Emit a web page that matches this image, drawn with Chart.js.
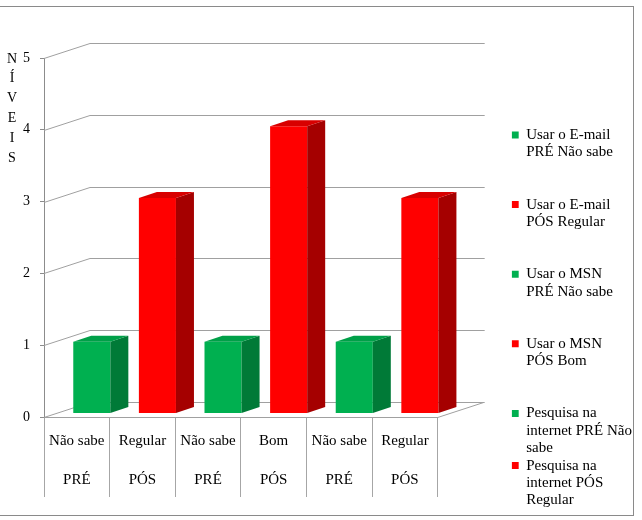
<!DOCTYPE html>
<html>
<head>
<meta charset="utf-8">
<script src="https://cdn.jsdelivr.net/npm/chart.js@4.4.1/dist/chart.umd.min.js"></script>
<style>
  html, body { margin: 0; padding: 0; background: #fff; }
  canvas { display: block; }
</style>
</head>
<body>
<canvas id="grafico" width="642" height="520"></canvas>
<script>
// DADOS DO GRAFICO
const categorias = ["Não sabe", "Regular", "Não sabe", "Bom", "Não sabe", "Regular"];
const fases = ["PRÉ", "PÓS", "PRÉ", "PÓS", "PRÉ", "PÓS"];
const valores = [1, 3, 1, 4, 1, 3];
const legendas = [
  ["Usar o E-mail", "PRÉ Não sabe"],
  ["Usar o E-mail", "PÓS Regular"],
  ["Usar o MSN", "PRÉ Não sabe"],
  ["Usar o MSN", "PÓS Bom"],
  ["Pesquisa na", "internet PRÉ Não", "sabe"],
  ["Pesquisa na", "internet PÓS", "Regular"]
];
const tituloY = "NÍVEIS";
const yMin = 0, yMax = 5, yPasso = 1;

// CORES
const VERDE = "#00B050", VERMELHO = "#FF0000";
const cores = fases.map(f => (f === "PRÉ" ? VERDE : VERMELHO));
const corLado = { [VERDE]: "#007A37", [VERMELHO]: "#A50000" };
const corTopo = { [VERDE]: "#00A048", [VERMELHO]: "#D80000" };

// PROFUNDIDADE 3D (pixels)
const PAREDE = { dx: 46, dy: -15 };
const FRENTE = { dx: 15, dy: -3.5 };
const LADO = { dx: 18, dy: -6 };

const FONTE = '"Liberation Serif", "Times New Roman", serif';
Chart.defaults.font.family = FONTE;
Chart.defaults.color = "#000";

// largura da legenda (mesma conta que o Chart.js faz, +10 da legenda vertical)
const medidor = document.createElement("canvas").getContext("2d");
medidor.font = "15px " + FONTE;
const larguraTexto = Math.max(...legendas.map(l =>
  medidor.measureText(l.reduce((a, b) => (a.length > b.length ? a : b))).width));
const larguraLegenda = 7 + 7.5 + larguraTexto + 10;
const legendaX = 512;
const fimEixoX = 438;
const padDireita = Math.max(0, 642 - legendaX - larguraLegenda);

// paredes, chao e lados das barras
const efeito3d = {
  id: "efeito3d",
  beforeDatasetsDraw(chart) {
    const { ctx, chartArea: a, scales: { y } } = chart;
    ctx.save();
    ctx.strokeStyle = "#a0a0a0";
    ctx.lineWidth = 1;
    ctx.beginPath();
    for (let v = yMin; v <= yMax; v += yPasso) {
      const py = Math.round(y.getPixelForValue(v)) + 0.5;
      ctx.moveTo(a.left, py);
      ctx.lineTo(a.left + PAREDE.dx, py + PAREDE.dy);
      ctx.lineTo(a.right + PAREDE.dx + 1, py + PAREDE.dy);
    }
    const pb = Math.round(a.bottom) + 0.5;
    ctx.moveTo(a.right, pb);
    ctx.lineTo(a.right + PAREDE.dx, pb + PAREDE.dy);
    ctx.stroke();
    ctx.restore();

    ctx.save();
    ctx.translate(FRENTE.dx, FRENTE.dy);
  },
  afterDatasetsDraw(chart) {
    const { ctx } = chart;
    chart.getDatasetMeta(0).data.forEach((bar, i) => {
      const { x, y, base, width } = bar.getProps(["x", "y", "base", "width"], true);
      const x1 = x - width / 2, x2 = x + width / 2;
      const cor = cores[i];
      // lado
      ctx.fillStyle = corLado[cor];
      ctx.beginPath();
      ctx.moveTo(x2, y);
      ctx.lineTo(x2 + LADO.dx, y + LADO.dy);
      ctx.lineTo(x2 + LADO.dx, base + LADO.dy);
      ctx.lineTo(x2, base);
      ctx.closePath();
      ctx.fill();
      // topo
      ctx.fillStyle = corTopo[cor];
      ctx.beginPath();
      ctx.moveTo(x1, y);
      ctx.lineTo(x2, y);
      ctx.lineTo(x2 + LADO.dx, y + LADO.dy);
      ctx.lineTo(x1 + LADO.dx, y + LADO.dy);
      ctx.closePath();
      ctx.fill();
    });
    ctx.restore();
  },
  afterDraw(chart) {
    const { ctx, chartArea: a } = chart;
    ctx.save();
    // titulo vertical letra por letra
    ctx.font = "14px " + FONTE;
    ctx.fillStyle = "#000";
    ctx.textAlign = "center";
    ctx.textBaseline = "middle";
    [...tituloY].forEach((letra, i) => ctx.fillText(letra, 12, a.top + 1 + i * 19.8));
    // moldura
    ctx.strokeStyle = "#8a8a8a";
    ctx.lineWidth = 1;
    ctx.strokeRect(-1.5, 6.5, 635, 509);
    ctx.restore();
  }
};

const context = document.getElementById("grafico").getContext("2d");
const grafico = new Chart(context, {
  type: "bar",
  data: {
    labels: categorias.map((c, i) => [c, fases[i]]),
    datasets: [{
      data: valores,
      backgroundColor: cores,
      borderWidth: 0,
      barPercentage: 0.565,
      categoryPercentage: 1,
      clip: false
    }]
  },
  options: {
    responsive: false,
    animation: false,
    events: [],
    layout: { padding: { top: 0, left: 0, bottom: 0, right: padDireita } },
    scales: {
      x: {
        grid: { offset: true, drawOnChartArea: false, tickLength: 80, color: "#a6a6a6" },
        border: { color: "#a0a0a0" },
        ticks: { autoSkip: false, maxRotation: 0, padding: -74.8, font: { size: 15, lineHeight: 2.57 } },
        afterFit: s => { s.height = 103; }
      },
      y: {
        min: yMin,
        max: yMax,
        ticks: { stepSize: yPasso, padding: 10, font: { size: 14 } },
        grid: { drawOnChartArea: false, tickLength: 4, color: "#8c8c8c" },
        border: { color: "#8c8c8c" },
        afterFit: s => { s.width = 44; }
      },
      y2: {
        position: "right",
        grid: { display: false },
        border: { display: false },
        ticks: { display: false },
        afterFit: s => { s.width = legendaX - fimEixoX; }
      }
    },
    plugins: {
      title: { display: true, text: "", fullSize: false, font: { size: 10, lineHeight: 1 }, padding: { top: 48, bottom: 0 } },
      tooltip: { enabled: false },
      legend: {
        position: "right",
        align: "start",
        maxWidth: 300,
        title: { display: true, text: "", font: { size: 10, lineHeight: 1 }, padding: { top: 117.5, bottom: 0 } },
        labels: {
          boxWidth: 7,
          boxHeight: 7,
          padding: 0,
          font: { size: 15, lineHeight: 1.16 },
          generateLabels: () => legendas.map((linhas, i) => ({
            text: linhas.length === 2 ? linhas.concat(["", ""]) : linhas,
            fillStyle: cores[i],
            strokeStyle: cores[i],
            lineWidth: 0,
            hidden: false,
            index: i
          }))
        }
      }
    }
  },
  plugins: [efeito3d]
});
</script>
</body>
</html>
